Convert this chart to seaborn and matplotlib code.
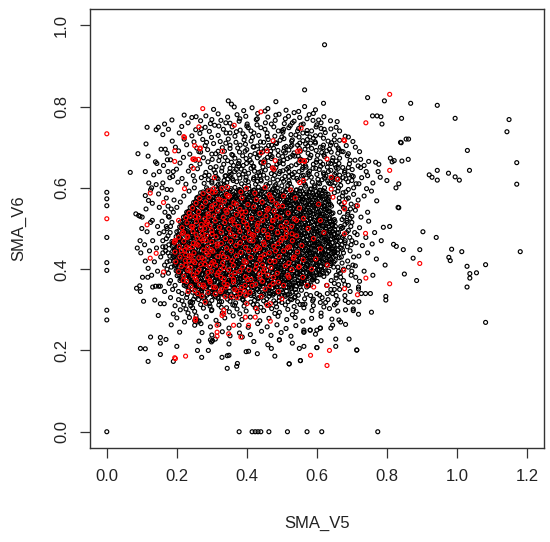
import matplotlib
matplotlib.use("Agg")
import matplotlib.pyplot as plt
import pandas as pd
import seaborn as sns

# ---------------- labels / ticks ----------------
x_label = "SMA_V5"
y_label = "SMA_V6"
x_ticks = [0.0, 0.2, 0.4, 0.6, 0.8, 1.0, 1.2]
y_ticks = [0.0, 0.2, 0.4, 0.6, 0.8, 1.0]

# ---------------- data (values in thousandths: (SMA_V5, SMA_V6)) ----------------
black_axis = [(0,589),(0,573),(0,556),(0,478),(0,416),(0,397),(0,299),(0,275),(0,0),
              (378,0),(415,0),(424,0),(432,0),(440,0),(463,0),(516,0),(572,0),(614,0),(774,0)]

black_core = [
 (252,333),(266,338),(279,330),(291,340),(305,335),(318,331),(333,339),(347,334),(362,329),(376,337),(391,332),(405,340),(420,335),(434,330),(449,338),(463,333),(478,340),(493,331),(508,336),(523,339),(538,332),
 (233,349),(245,343),(259,351),(270,346),(284,352),(297,344),(309,349),(323,342),(336,351),(350,346),(364,352),(377,343),(390,348),(404,353),(417,345),(431,350),(445,342),(458,348),(472,353),(486,344),(499,349),(513,346),(528,352),(541,343),(556,348),
 (221,360),(234,355),(247,363),(258,357),(272,364),(286,356),(298,361),(312,354),(325,363),(339,358),(351,365),(366,355),(379,361),(393,357),(406,364),(420,354),(433,360),(447,365),(460,356),(474,362),(487,357),(501,364),(515,355),(528,361),(542,358),(556,364),(571,356),(583,361),
 (209,372),(222,367),(236,375),(249,369),(262,376),(275,366),(289,372),(302,377),(315,368),(329,373),(343,366),(356,375),(369,370),(383,376),(397,367),(410,372),(424,377),(437,368),(451,374),(464,366),(478,371),(491,376),(505,369),(519,374),(532,366),(546,372),(559,377),(573,368),(587,373),(601,370),
 (201,384),(214,379),(228,387),(241,381),(254,388),(268,378),(281,385),(294,380),(308,388),(321,382),(335,378),(348,386),(362,381),(375,388),(389,379),(402,384),(416,389),(429,380),(443,386),(456,378),(470,383),(483,388),(497,381),(510,386),(524,378),(538,384),(551,389),(565,380),(578,385),(592,379),(606,387),(620,382),
 (198,396),(211,391),(224,399),(238,393),(251,400),(265,390),(278,397),(292,392),(305,400),(318,394),(332,390),(345,398),(359,393),(372,400),(386,391),(399,396),(413,401),(426,392),(440,398),(453,390),(467,395),(480,400),(494,393),(507,398),(521,390),(534,396),(548,401),(561,392),(575,397),(588,391),(602,399),(615,394),(629,390),
 (193,408),(206,403),(220,411),(233,405),(247,412),(260,402),(274,409),(287,404),(301,412),(314,406),(327,402),(341,410),(354,405),(368,412),(381,403),(395,408),(408,413),(422,404),(435,410),(449,402),(462,407),(476,412),(489,405),(503,410),(516,402),(530,408),(543,413),(557,404),(570,409),(584,403),(597,411),(611,406),(624,402),(638,409),
 (190,420),(203,415),(217,423),(230,417),(244,424),(257,414),(271,421),(284,416),(298,424),(311,418),(324,414),(338,422),(351,417),(365,424),(378,415),(392,420),(405,425),(419,416),(432,422),(446,414),(459,419),(473,424),(486,417),(500,422),(513,414),(527,420),(540,425),(554,416),(567,421),(581,415),(594,423),(608,418),(621,414),(635,421),(648,417),
 (189,432),(202,427),(216,435),(229,429),(243,436),(256,426),(270,433),(283,428),(297,436),(310,430),(323,426),(337,434),(350,429),(364,436),(377,427),(391,432),(404,437),(418,428),(431,434),(445,426),(458,431),(472,436),(485,429),(499,434),(512,426),(526,432),(539,437),(553,428),(566,433),(580,427),(593,435),(607,430),(620,426),(634,433),(647,429),
 (188,444),(201,439),(215,447),(228,441),(242,448),(255,438),(269,445),(282,440),(296,448),(309,442),(322,438),(336,446),(349,441),(363,448),(376,439),(390,444),(403,449),(417,440),(430,446),(444,438),(457,443),(471,448),(484,441),(498,446),(511,438),(525,444),(538,449),(552,440),(565,445),(579,439),(592,447),(606,442),(619,438),(633,445),(646,441),(659,447),
 (187,456),(200,451),(214,459),(227,453),(241,460),(254,450),(268,457),(281,452),(295,460),(308,454),(321,450),(335,458),(348,453),(362,460),(375,451),(389,456),(402,461),(416,452),(429,458),(443,450),(456,455),(470,460),(483,453),(497,458),(510,450),(524,456),(537,461),(551,452),(564,457),(578,451),(591,459),(605,454),(618,450),(632,457),(645,453),(658,459),
 (186,468),(199,463),(213,471),(226,465),(240,472),(253,462),(267,469),(280,464),(294,472),(307,466),(320,462),(334,470),(347,465),(361,472),(374,463),(388,468),(401,473),(415,464),(428,470),(442,462),(455,467),(469,472),(482,465),(496,470),(509,462),(523,468),(536,473),(550,464),(563,469),(577,463),(590,471),(604,466),(617,462),(631,469),(644,465),(657,471),
 (198,480),(211,475),(225,483),(238,477),(252,484),(265,474),(279,481),(292,476),(306,484),(319,478),(332,474),(346,482),(359,477),(373,484),(386,475),(400,480),(413,485),(427,476),(440,482),(454,474),(467,479),(481,484),(494,477),(508,482),(521,474),(535,480),(548,485),(562,476),(575,481),(589,475),(602,483),(616,478),(629,474),(643,481),(656,477),
 (200,492),(213,487),(227,495),(240,489),(254,496),(267,486),(281,493),(294,488),(308,496),(321,490),(334,486),(348,494),(361,489),(375,496),(388,487),(402,492),(415,497),(429,488),(442,494),(456,486),(469,491),(483,496),(496,489),(510,494),(523,486),(537,492),(550,497),(564,488),(577,493),(591,487),(604,495),(618,490),(631,486),(645,493),(658,489),
 (208,504),(221,499),(235,507),(248,501),(262,508),(275,498),(289,505),(302,500),(316,508),(329,502),(342,498),(356,506),(369,501),(383,508),(396,499),(410,504),(423,509),(437,500),(450,506),(464,498),(477,503),(491,508),(504,501),(518,506),(531,498),(545,504),(558,509),(572,500),(585,505),(599,499),(612,507),(626,502),(639,498),(653,505),
 (210,516),(223,511),(237,519),(250,513),(264,520),(277,510),(291,517),(304,512),(318,520),(331,514),(344,510),(358,518),(371,513),(385,520),(398,511),(412,516),(425,521),(439,512),(452,518),(466,510),(479,515),(493,520),(506,513),(520,518),(533,510),(547,516),(560,521),(574,512),(587,517),(601,511),(614,519),(628,514),(641,510),(652,517),
 (219,528),(232,523),(246,531),(259,525),(273,532),(286,522),(300,529),(313,524),(327,532),(340,526),(353,522),(367,530),(380,525),(394,532),(407,523),(421,528),(434,533),(448,524),(461,530),(475,522),(488,527),(502,532),(515,525),(529,530),(542,522),(556,528),(569,533),(583,524),(596,529),(610,523),(623,531),(637,526),(650,522),
 (228,540),(241,535),(255,543),(268,537),(282,544),(295,534),(309,541),(322,536),(336,544),(349,538),(362,534),(376,542),(389,537),(403,544),(416,535),(430,540),(443,545),(457,536),(470,542),(484,534),(497,539),(511,544),(524,537),(538,542),(551,534),(565,540),(578,545),(592,536),(605,541),(619,535),(632,543),(646,538),
 (238,552),(251,547),(265,555),(278,549),(292,556),(305,546),(319,553),(332,548),(346,556),(359,550),(372,546),(386,554),(399,549),(413,556),(426,547),(440,552),(453,557),(467,548),(480,554),(494,546),(507,551),(521,556),(534,549),(548,554),(561,546),(575,552),(588,557),(602,548),(615,553),(629,547),(642,555),
 (248,564),(261,559),(275,567),(288,561),(302,568),(315,558),(329,565),(342,560),(356,568),(369,562),(382,558),(396,566),(409,561),(423,568),(436,559),(450,564),(463,569),(477,560),(490,566),(504,558),(517,563),(531,568),(544,561),(558,566),(571,558),(585,564),(598,569),(612,560),(625,565),(639,559),
 (258,576),(271,571),(285,579),(298,573),(312,580),(325,570),(339,577),(352,572),(366,580),(379,574),(392,570),(406,578),(419,573),(433,580),(446,571),(460,576),(473,581),(487,572),(500,578),(514,570),(527,575),(541,580),(554,573),(568,578),(581,570),(595,576),(608,581),(622,572),(635,577),
 (268,588),(281,583),(295,591),(308,585),(322,592),(335,582),(349,589),(362,584),(376,592),(389,586),(402,582),(416,590),(429,585),(443,592),(456,583),(470,588),(483,593),(497,584),(510,590),(524,582),(537,587),(551,592),(564,585),(578,590),(591,582),(605,588),(618,593),(632,584),
 (285,600),(298,595),(312,603),(325,597),(339,604),(352,594),(366,601),(379,596),(393,604),(406,598),(419,594),(433,602),(446,597),(460,604),(473,595),(487,600),(500,605),(514,596),(527,602),(541,594),(554,599),(568,604),(581,597),(595,602),(608,594),(622,600),
]

black_core2 = [
 (259,338),(271,343),(286,336),(300,345),(311,341),(327,339),(340,346),(354,337),(365,342),(380,344),(393,336),(407,343),(420,340),(435,345),(447,338),(462,346),(474,339),(489,341),(502,344),(517,337),(529,343),
 (243,350),(256,355),(271,348),(284,357),(296,353),(311,351),(324,358),(338,349),(350,354),(364,356),(377,348),(391,355),(404,352),(418,357),(430,350),(445,358),(457,351),(472,353),(485,356),(499,349),(511,355),(526,352),(539,350),(552,357),
 (228,362),(241,367),(255,360),(268,369),(280,365),(295,363),(308,370),(322,361),(334,366),(348,368),(361,360),(375,367),(388,364),(402,369),(414,362),(429,370),(441,363),(456,365),(469,368),(483,361),(495,367),(510,364),(523,362),(537,369),(550,363),(564,366),(577,361),
 (215,374),(228,379),(242,372),(255,381),(267,377),(282,375),(295,382),(309,373),(321,378),(335,380),(348,372),(362,379),(375,376),(389,381),(401,374),(416,382),(428,375),(443,377),(456,380),(470,373),(482,379),(497,376),(510,374),(524,381),(537,375),(551,378),(564,373),(579,380),(592,376),
 (206,386),(219,391),(233,384),(246,393),(258,389),(273,387),(286,394),(300,385),(312,390),(326,392),(339,384),(353,391),(366,388),(380,393),(392,386),(407,394),(419,387),(434,389),(447,392),(461,385),(473,391),(488,388),(501,386),(515,393),(528,387),(542,390),(555,385),(570,392),(583,388),(597,391),(610,386),
 (203,398),(216,403),(230,396),(243,405),(255,401),(270,399),(283,406),(297,397),(309,402),(323,404),(336,396),(350,403),(363,400),(377,405),(389,398),(404,406),(416,399),(431,401),(444,404),(458,397),(470,403),(485,400),(498,398),(512,405),(525,399),(539,402),(552,397),(567,404),(580,400),(594,403),(607,398),(621,404),
 (197,410),(210,415),(224,408),(237,417),(249,413),(264,411),(277,418),(291,409),(303,414),(317,416),(330,408),(344,415),(357,412),(371,417),(383,410),(398,418),(410,411),(425,413),(438,416),(452,409),(464,415),(479,412),(492,410),(506,417),(519,411),(533,414),(546,409),(561,416),(574,412),(588,415),(601,410),(615,416),(628,411),(641,414),
 (194,422),(207,427),(221,420),(234,429),(246,425),(261,423),(274,430),(288,421),(300,426),(314,428),(327,420),(341,427),(354,424),(368,429),(380,422),(395,430),(407,423),(422,425),(435,428),(449,421),(461,427),(476,424),(489,422),(503,429),(516,423),(530,426),(543,421),(558,428),(571,424),(585,427),(598,422),(612,428),(625,423),(639,426),(652,421),
 (195,434),(208,439),(222,432),(235,441),(247,437),(262,435),(275,442),(289,433),(301,438),(315,440),(328,432),(342,439),(355,436),(369,441),(381,434),(396,442),(408,435),(423,437),(436,440),(450,433),(462,439),(477,436),(490,434),(504,441),(517,435),(531,438),(544,433),(559,440),(572,436),(586,439),(599,434),(613,440),(626,435),(640,438),(653,433),
 (193,446),(206,451),(220,444),(233,453),(245,449),(260,447),(273,454),(287,445),(299,450),(313,452),(326,444),(340,451),(353,448),(367,453),(379,446),(394,454),(406,447),(421,449),(434,452),(448,445),(460,451),(475,448),(488,446),(502,453),(515,447),(529,450),(542,445),(557,452),(570,448),(584,451),(597,446),(611,452),(624,447),(638,450),(651,445),
 (191,458),(204,463),(218,456),(231,465),(243,461),(258,459),(271,466),(285,457),(297,462),(311,464),(324,456),(338,463),(351,460),(365,465),(377,458),(392,466),(404,459),(419,461),(432,464),(446,457),(458,463),(473,460),(486,458),(500,465),(513,459),(527,462),(540,457),(555,464),(568,460),(582,463),(595,458),(609,464),(622,459),(636,462),(649,457),
 (196,470),(209,475),(223,468),(236,477),(248,473),(263,471),(276,478),(290,469),(302,474),(316,476),(329,468),(343,475),(356,472),(370,477),(382,470),(397,478),(409,471),(424,473),(437,476),(451,469),(463,475),(478,472),(491,470),(505,477),(518,471),(532,474),(545,469),(560,476),(573,472),(587,475),(600,470),(614,476),(627,471),(641,474),(654,469),
 (204,482),(217,487),(231,480),(244,489),(256,485),(271,483),(284,490),(298,481),(310,486),(324,488),(337,480),(351,487),(364,484),(378,489),(390,482),(405,490),(417,483),(432,485),(445,488),(459,481),(471,487),(486,484),(499,482),(513,489),(526,483),(540,486),(553,481),(568,488),(581,484),(595,487),(608,482),(622,488),(635,483),(649,486),
 (206,494),(219,499),(233,492),(246,501),(258,497),(273,495),(286,502),(300,493),(312,498),(326,500),(339,492),(353,499),(366,496),(380,501),(392,494),(407,502),(419,495),(434,497),(447,500),(461,493),(473,499),(488,496),(501,494),(515,501),(528,495),(542,498),(555,493),(570,500),(583,496),(597,499),(610,494),(624,500),(637,495),(651,498),
 (214,506),(227,511),(241,504),(254,513),(266,509),(281,507),(294,514),(308,505),(320,510),(334,512),(347,504),(361,511),(374,508),(388,513),(400,506),(415,514),(427,507),(442,509),(455,512),(469,505),(481,511),(496,508),(509,506),(523,513),(536,507),(550,510),(563,505),(578,512),(591,508),(605,511),(618,506),(632,512),(645,507),
 (216,518),(229,523),(243,516),(256,525),(268,521),(283,519),(296,526),(310,517),(322,522),(336,524),(349,516),(363,523),(376,520),(390,525),(402,518),(417,526),(429,519),(444,521),(457,524),(471,517),(483,523),(498,520),(511,518),(525,525),(538,519),(552,522),(565,517),(580,524),(593,520),(607,523),(620,518),(634,524),(647,519),
 (224,530),(237,535),(251,528),(264,537),(276,533),(291,531),(304,538),(318,529),(330,534),(344,536),(357,528),(371,535),(384,532),(398,537),(410,530),(425,538),(437,531),(452,533),(465,536),(479,529),(491,535),(506,532),(519,530),(533,537),(546,531),(560,534),(573,529),(588,536),(601,532),(615,535),(628,530),(642,536),
 (233,542),(246,547),(260,540),(273,549),(285,545),(300,543),(313,550),(327,541),(339,546),(353,548),(366,540),(380,547),(393,544),(407,549),(419,542),(434,550),(446,543),(461,545),(474,548),(488,541),(500,547),(515,544),(528,542),(542,549),(555,543),(569,546),(582,541),(597,548),(610,544),(624,547),(637,542),
 (243,554),(256,559),(270,552),(283,561),(295,557),(310,555),(323,562),(337,553),(349,558),(363,560),(376,552),(390,559),(403,556),(417,561),(429,554),(444,562),(456,555),(471,557),(484,560),(498,553),(510,559),(525,556),(538,554),(552,561),(565,555),(579,558),(592,553),(607,560),(620,556),(634,559),
 (253,566),(266,571),(280,564),(293,573),(305,569),(320,567),(333,574),(347,565),(359,570),(373,572),(386,564),(400,571),(413,568),(427,573),(439,566),(454,574),(466,567),(481,569),(494,572),(508,565),(520,571),(535,568),(548,566),(562,573),(575,567),(589,570),(602,565),(617,572),(630,568),
 (263,578),(276,583),(290,576),(303,585),(315,581),(330,579),(343,586),(357,577),(369,582),(383,584),(396,576),(410,583),(423,580),(437,585),(449,578),(464,586),(476,579),(491,581),(504,584),(518,577),(530,583),(545,580),(558,578),(572,585),(585,579),(599,582),(612,577),(626,584),
 (275,590),(288,595),(302,588),(315,597),(327,593),(342,591),(355,598),(369,589),(381,594),(395,596),(408,588),(422,595),(435,592),(449,597),(461,590),(476,598),(488,591),(503,593),(516,596),(530,589),(542,595),(557,592),(570,590),(584,597),(597,591),(611,594),(624,589),
]

black_core3 = [
 (226,358),(243,367),(252,361),(273,354),(285,369),(300,363),(308,356),(327,365),(338,360),(355,371),(364,355),(383,364),(395,359),(410,368),(418,362),(437,357),(448,370),(465,363),(474,354),(493,366),(505,361),(520,368),(528,356),(547,365),(558,371),(575,359),
 (212,376),(229,385),(238,379),(259,372),(271,387),(286,381),(294,374),(313,383),(324,378),(341,389),(350,373),(369,382),(381,377),(396,386),(404,380),(423,375),(434,388),(451,381),(460,372),(479,384),(491,379),(506,386),(514,374),(533,383),(544,389),(561,377),(570,381),(589,374),(601,386),
 (203,394),(220,403),(229,397),(250,390),(262,405),(277,399),(285,392),(304,401),(315,396),(332,407),(341,391),(360,400),(372,395),(387,404),(395,398),(414,393),(425,406),(442,399),(451,390),(470,402),(482,397),(497,404),(505,392),(524,401),(535,407),(552,395),(561,399),(580,392),(592,404),(607,398),(618,390),
 (196,412),(213,421),(222,415),(243,408),(255,423),(270,417),(278,410),(297,419),(308,414),(325,425),(334,409),(353,418),(365,413),(380,422),(388,416),(407,411),(418,424),(435,417),(444,408),(463,420),(475,415),(490,422),(498,410),(517,419),(528,425),(545,413),(554,417),(573,410),(585,422),(600,416),(611,408),(628,419),(640,414),
 (192,430),(209,439),(218,433),(239,426),(251,441),(266,435),(274,428),(293,437),(304,432),(321,443),(330,427),(349,436),(361,431),(376,440),(384,434),(403,429),(414,442),(431,435),(440,426),(459,438),(471,433),(486,440),(494,428),(513,437),(524,443),(541,431),(550,435),(569,428),(581,440),(596,434),(607,426),(624,437),(636,432),(651,441),
 (200,448),(217,457),(226,451),(247,444),(259,459),(274,453),(282,446),(301,455),(312,450),(329,461),(338,445),(357,454),(369,449),(384,458),(392,452),(411,447),(422,460),(439,453),(448,444),(467,456),(479,451),(494,458),(502,446),(521,455),(532,461),(549,449),(558,453),(577,446),(589,458),(604,452),(615,444),(632,455),(644,450),(659,459),
 (190,466),(207,475),(216,469),(237,462),(249,477),(264,471),(272,464),(291,473),(302,468),(319,479),(328,463),(347,472),(359,467),(374,476),(382,470),(401,465),(412,478),(429,471),(438,462),(457,474),(469,469),(484,476),(492,464),(511,473),(522,479),(539,467),(548,471),(567,464),(579,476),(594,470),(605,462),(622,473),(634,468),(649,477),
 (205,484),(222,493),(231,487),(252,480),(264,495),(279,489),(287,482),(306,491),(317,486),(334,497),(343,481),(362,490),(374,485),(389,494),(397,488),(416,483),(427,496),(444,489),(453,480),(472,492),(484,487),(499,494),(507,482),(526,491),(537,497),(554,485),(563,489),(582,482),(594,494),(609,488),(620,480),(637,491),(649,486),
 (212,502),(229,511),(238,505),(259,498),(271,513),(286,507),(294,500),(313,509),(324,504),(341,515),(350,499),(369,508),(381,503),(396,512),(404,506),(423,501),(434,514),(451,507),(460,498),(479,510),(491,505),(506,512),(514,500),(533,509),(544,515),(561,503),(570,507),(589,500),(601,512),(616,506),(627,498),(644,509),
 (222,520),(239,529),(248,523),(269,516),(281,531),(296,525),(304,518),(323,527),(334,522),(351,533),(360,517),(379,526),(391,521),(406,530),(414,524),(433,519),(444,532),(461,525),(470,516),(489,528),(501,523),(516,530),(524,518),(543,527),(554,533),(571,521),(580,525),(599,518),(611,530),(626,524),(637,516),
 (231,538),(248,547),(257,541),(278,534),(290,549),(305,543),(313,536),(332,545),(343,540),(360,551),(369,535),(388,544),(400,539),(415,548),(423,542),(442,537),(453,550),(470,543),(479,534),(498,546),(510,541),(525,548),(533,536),(552,545),(563,551),(580,539),(589,543),(608,536),(620,548),(635,542),
 (245,556),(262,565),(271,559),(292,552),(304,567),(319,561),(327,554),(346,563),(357,558),(374,569),(383,553),(402,562),(414,557),(429,566),(437,560),(456,555),(467,568),(484,561),(493,552),(512,564),(524,559),(539,566),(547,554),(566,563),(577,569),(594,557),(603,561),(622,554),(634,566),
 (257,574),(274,583),(283,577),(304,570),(316,585),(331,579),(339,572),(358,581),(369,576),(386,587),(395,571),(414,580),(426,575),(441,584),(449,578),(468,573),(479,586),(496,579),(505,570),(524,582),(536,577),(551,584),(559,572),(578,581),(589,587),(606,575),(615,579),(632,572),
]

black_trans = [
 (300,612),(318,622),(336,607),(352,628),(371,615),(389,634),(405,606),(422,641),(440,620),(455,608),(470,635),(488,619),(503,642),(517,606),(533,626),(549,640),(562,613),(578,633),(593,605),(607,645),
 (622,624),(638,610),(651,633),(666,618),(680,642),(352,648),(376,660),(398,672),(418,653),(436,680),(452,664),(468,690),(486,658),(502,677),(519,650),(535,686),(552,671),(567,655),(583,680),(598,663),
 (614,687),(630,651),(646,674),(663,660),(420,700),(448,712),(476,698),(500,725),(526,702),(545,740),(568,708),(590,722),(610,700),(632,715),(655,705),(670,690),(600,755),(572,770),(530,760),
 (230,338),(248,326),(265,335),(283,322),(300,340),(318,328),(336,336),(352,321),(370,334),(388,326),(405,338),(422,323),(440,332),(457,327),(474,336),(492,322),(510,333),(528,325),(547,336),(565,327),
 (582,335),(600,340),(615,330),(240,310),(268,313),(295,309),(320,312),(342,305),(365,311),(392,309),(418,313),(440,306),(462,311),(485,307),(510,312),(535,308),(560,313),(590,310),(620,307),(650,312),
 (650,350),(662,362),(655,378),(667,390),(660,405),(672,415),(664,428),(676,440),(669,452),(680,465),(672,478),(685,490),(674,502),(686,515),(677,528),(689,540),(676,552),(664,565),(673,580),(660,592),
 (648,605),(634,612),(642,625),(690,575),(698,460),(703,410),(695,525),
 (182,372),(176,390),(184,405),(172,418),(180,432),(168,445),(177,460),(170,475),(181,490),(172,500),(186,515),(178,528),(190,540),(200,552),(195,360),(205,345),(188,350),(165,410),(160,455),(163,492),
 (175,555),(210,565),(220,580),(235,592),(250,600),
 (312,628),(328,641),(346,622),(362,655),(384,646),(397,619),(413,662),(428,629),(446,651),(459,675),(478,643),(493,662),(509,628),(524,676),(541,657),(556,629),(571,667),(589,648),(604,612),(617,658),
 (633,640),(647,621),(660,685),(395,690),(412,715),(434,688),(458,726),(471,705),(490,680),(512,702),(530,718),(547,678),(566,695),(580,725),(602,680),(619,705),(636,695),(381,705),(360,680),(338,675),
 (318,690),(296,650),(280,630),(268,688),(285,712),(352,735),(400,752),(440,748),(490,740),(520,748),(560,735),(612,746),(582,710),(545,705),(505,690),(470,672),(440,640),(420,625),(390,655),(365,640),
 (340,630),(325,610),(480,605),(520,640),(560,650),(600,633),(640,660),(655,650),(675,625),(690,650),
 (228,330),(245,318),(258,340),(276,328),(293,315),(310,332),(328,320),(345,338),(360,312),(378,329),(395,318),(412,335),(430,313),(448,322),(465,340),(482,316),(500,335),(518,320),(536,330),(552,313),
 (570,338),(590,326),(608,336),(625,318),(300,300),(330,292),(380,290),(430,295),(480,291),(530,288),
]

black_top = [
 (203,614),(226,609),(251,617),(278,611),(300,616),(318,608),(343,613),(361,618),(385,610),(404,615),(425,609),(441,617),(466,612),(483,608),(505,616),(522,611),(546,618),(566,609),(587,614),(608,610),(631,617),(652,612),(668,606),(689,615),(712,610),
 (188,628),(215,623),(247,630),(270,625),(292,631),(315,624),(338,629),(359,622),(377,632),(398,626),(419,621),(437,630),(458,624),(479,631),(501,622),(520,628),(543,623),(561,631),(584,626),(603,621),(626,629),(645,624),(665,631),(683,622),(704,628),(728,625),
 (175,640),(199,646),(233,641),(259,647),(283,638),(306,644),(329,649),(351,639),(370,645),(393,641),(412,648),(434,638),(453,644),(474,649),(495,640),(514,646),(536,638),(558,645),(579,641),(597,648),(619,637),(640,643),(661,648),(679,638),(701,645),(741,640),
 (162,655),(209,661),(241,653),(266,659),(289,664),(312,652),(334,658),(356,663),(377,654),(399,660),(420,652),(441,661),(462,655),(483,650),(504,659),(527,654),(548,662),(569,651),(590,658),(611,653),(633,661),(652,656),(674,650),(693,659),(718,654),
 (182,669),(219,675),(253,668),(276,674),(301,670),(323,677),(345,667),(366,673),(388,679),(409,668),(430,674),(451,669),(472,677),(494,666),(516,672),(537,678),(558,668),(580,674),(600,669),(622,677),(644,667),(665,673),(687,679),(709,668),
 (172,685),(205,691),(237,683),(263,689),(288,694),(311,684),(336,690),(357,682),(379,688),(400,694),(423,684),(446,689),(467,682),(489,692),(510,686),(531,680),(553,690),(575,685),(598,692),(620,681),(641,688),(663,694),(690,684),(722,689),
 (196,700),(228,706),(257,698),(281,704),(305,709),(330,699),(352,705),(374,698),(396,707),(418,701),(441,696),(462,704),(485,709),(507,699),(529,705),(550,697),(574,703),(596,710),(617,699),(639,705),(661,698),(684,704),
 (187,715),(221,720),(249,713),(274,719),(299,724),(324,714),(347,720),(369,712),(392,718),(416,724),(439,713),(461,719),(483,711),(506,721),(528,715),(551,710),(573,719),(595,713),(619,722),(642,711),(665,717),(703,714),
 (160,731),(207,735),(243,728),(266,734),(293,739),(318,729),(341,735),(366,727),(389,733),(412,740),(434,729),(458,735),(480,727),(503,737),(526,731),(549,725),(572,734),(596,728),(624,736),(650,730),(681,727),
 (147,749),(176,744),(214,751),(254,743),(281,749),(308,754),(333,744),(358,750),(381,742),(404,748),(429,755),(452,744),(477,750),(501,741),(524,753),(548,746),(572,741),(598,750),(621,744),(655,749),
 (165,757),(186,767),(232,760),(268,765),(296,758),(326,766),(352,759),(378,764),(401,757),(427,768),(453,760),(481,766),(507,758),(535,764),(561,757),(589,766),(612,760),(639,765),
 (221,779),(243,773),(283,777),(318,782),(345,774),(372,780),(397,776),(431,783),(460,774),(492,781),(519,776),(551,773),(578,780),(620,775),
 (347,814),(356,806),(364,799),(305,793),(391,790),(415,797),(452,789),(512,791),(548,788),(596,792),(483,812),(483,779),(565,841),(565,800),(619,808),(622,952),
 (290,620),(335,618),(380,624),(430,616),(475,622),(520,617),(570,624),(615,620),(660,622),(700,618),(310,637),(355,633),(405,636),(448,631),(492,635),(530,633),(575,637),(620,633),
 (655,637),(690,632),(320,667),(378,666),(440,663),(505,668),(560,660),(610,664),(655,666),(300,683),(352,697),(410,680),(455,697),(520,693),(585,697),(628,691),(675,689),(340,710),
 (395,726),(430,703),(495,717),(540,730),(560,716),(610,730),(650,718),(270,745),(320,752),(370,738),(420,735),(470,757),(510,770),(555,755),(585,740),(605,767),(640,745),(460,795),
 (430,770),(505,744),(380,770),(340,760),(300,768),(255,775),(535,785),(590,783),(665,740),(690,725),(710,700),(725,670),(735,655),(695,668),
]

black_left = [
 (95,530),(83,536),(91,532),(101,528),(110,581),(119,569),(112,548),(134,632),(141,608),(118,678),(139,664),(143,660),(155,695),(167,695),(173,669),(89,684),(112,708),(115,749),(141,743),(67,638),
 (125,595),(148,585),(160,612),(172,596),(180,625),(150,552),(166,540),(130,520),(145,505),(158,518),(176,530),(184,548),(192,570),(170,505),(150,488),(131,470),(108,460),(122,445),(142,452),(160,470),
 (175,482),(168,455),(154,430),(136,418),(118,402),(97,440),(87,452),(102,380),(117,380),(131,356),(139,358),(148,358),(153,358),(85,353),(94,359),(96,345),(105,321),(137,324),(153,315),(164,315),
 (147,286),(184,263),(172,400),(160,385),(178,365),(165,345),(182,330),(195,310),(205,325),(190,290),(210,300),(220,312),(232,292),(245,305),(200,280),(222,270),(255,285),(240,320),(215,340),(180,420),
 (175,440),(182,505),(160,440),(145,395),(128,385),(110,420),(100,500),(115,492),(125,515),(95,470),(120,612),(110,640),(150,640),(128,600),(190,640),(130,562),(184,595),(170,575),(158,600),
]

black_bottom = [
 (215,322),(238,318),(262,325),(284,316),(300,323),(322,320),(345,326),(368,317),(389,324),(411,319),(432,327),(455,316),(477,322),(500,318),(524,326),(545,320),(566,314),(588,322),(610,318),(632,325),(655,316),(681,323),(704,319),
 (226,302),(251,296),(276,304),(299,298),(327,306),(350,295),(372,302),(398,297),(424,305),(448,298),(471,303),(493,294),(517,301),(541,296),(563,305),(586,298),(612,292),(636,303),(660,297),(719,289),
 (236,281),(258,276),(284,283),(312,274),(337,280),(361,285),(386,276),(410,282),(437,273),(463,279),(489,284),(514,276),(538,281),(560,272),(585,279),(612,284),(643,277),(668,270),
 (251,262),(269,266),(296,258),(320,264),(349,255),(378,262),(404,257),(431,266),(458,258),(486,263),(512,254),(540,261),(563,250),(581,250),(610,255),(645,262),(682,264),
 (272,244),(300,238),(330,246),(352,236),(379,243),(410,239),(442,247),(469,237),(498,244),(526,235),(563,245),(596,240),(654,228),(692,228),(654,210),
 (263,223),(299,221),(310,228),(387,233),(349,216),(420,222),(460,214),(493,226),(530,218),(600,207),(714,201),(550,205),
 (259,200),(290,200),(398,197),(405,198),(329,183),(344,187),(349,188),(373,168),(371,161),(344,156),(271,183),(430,192),(480,186),(521,167),(553,175),(470,205),(200,210),(208,245),
 (118,173),(96,205),(110,204),(125,233),(153,190),(169,227),(153,218),(153,232),(190,173),(251,273),(258,270),(264,272),(296,226),(302,224),
]

black_right = [
 (662,600),(675,588),(690,596),(705,584),(684,572),(670,560),(698,560),(718,570),(735,580),(756,592),(771,568),(800,618),(781,626),(834,610),(826,600),(832,552),(790,503),(808,505),
 (745,540),(726,528),(710,545),(688,535),(672,522),(700,515),(722,502),(748,518),(765,490),(740,478),(715,485),(690,495),(668,505),(676,482),(700,470),(730,458),(758,462),(784,470),
 (819,461),(827,456),(847,448),(875,427),(894,448),(903,492),(941,478),(672,460),(695,445),(720,432),(745,440),(770,425),(795,410),(688,420),(710,408),(735,395),(760,385),(676,400),
 (698,385),(722,370),(753,340),(739,340),(727,340),(719,356),(719,351),(704,302),(704,298),(756,294),(797,333),(797,324),(850,388),(885,372),(668,380),(690,360),(665,350),(680,335),
 (660,325),(645,340),(650,365),(690,318),(720,320),(670,430),(668,470),(662,490),(680,510),(665,540),(680,550),(700,530),(720,610),(742,598),(760,612),(775,640),(745,630),(700,630),
 (725,650),(748,665),(768,663),(777,658),(815,664),(810,673),(821,667),(843,666),(861,670),(839,712),(855,720),(841,711),(862,720),(759,777),(772,777),(783,775),(786,757),(745,822),
 (793,814),(868,808),(944,803),(842,771),(995,771),(1149,768),(1143,738),(1030,692),(1171,662),(1171,609),(1036,643),(944,643),(921,632),(929,626),(944,619),(976,636),(995,627),(1007,619),
 (834,551),(985,449),(1014,443),(1181,443),(1082,411),(1029,407),(977,429),(981,421),(1082,269),(1029,356),(1037,378),(1037,389),(1056,391),(714,201),(658,763),(663,275),(682,300),
 (600,207),(610,255),(581,250),(563,245),(493,226),(521,167),(553,175),(612,224),(640,255),(600,250),(563,210),
 (628,360),(641,372),(655,385),(634,395),(648,405),(662,395),(676,372),(659,440),(673,448),(687,455),(694,478),(681,470),(662,478),(670,500),(686,520),(696,548),(683,590),
 (664,575),(650,588),(705,600),(712,556),(697,505),(708,490),(712,465),(705,430),(690,405),(700,395),(711,380),(680,362),(695,345),(640,350),(655,335),(630,340),
]

red_axis = [(0,733),(0,524)]

red_core = [
 (272,334),(310,339),(356,332),(398,336),(441,333),
 (251,347),(289,343),(328,350),(371,347),(409,343),(452,351),
 (240,358),(276,361),(304,356),(344,362),(385,355),(425,363),(466,359),
 (228,370),(256,373),(295,368),(335,376),(362,368),(402,374),(445,370),(490,368),
 (220,383),(247,385),(287,379),(315,386),(355,384),(396,381),(437,388),(476,380),(517,385),
 (205,394),(231,397),(258,392),(299,395),(325,399),(366,391),(406,398),(447,394),(487,390),(528,399),
 (213,407),(240,404),(268,411),(294,407),(334,404),(361,409),(388,405),(428,411),(469,404),(510,408),(550,406),
 (197,418),(224,421),(251,416),(278,423),(305,419),(331,416),(358,421),(398,417),(438,424),(480,419),(520,415),(561,423),
 (209,430),(236,433),(263,428),(290,435),(317,431),(344,428),(370,433),(411,429),(451,436),(492,431),(533,427),
 (195,442),(222,446),(249,440),(276,447),(303,444),(329,439),(356,445),(383,441),(424,447),(464,440),(505,445),(545,442),
 (207,455),(234,452),(261,459),(288,454),(315,457),(342,452),(369,458),(396,454),(436,451),(477,456),(517,453),(557,458),
 (193,466),(220,469),(247,464),(274,470),(300,467),(327,463),(354,468),(381,465),(408,471),(448,466),(489,463),(530,470),
 (205,478),(231,481),(258,476),(285,483),(312,480),(339,475),(366,481),(393,477),(420,483),(461,478),(501,476),(542,482),
 (219,490),(246,493),(273,488),(300,495),(327,491),(354,487),(380,493),(407,489),(448,495),(488,490),(529,487),
 (215,502),(242,505),(268,500),(295,507),(322,503),(349,499),(376,505),(403,501),(430,507),(470,502),(511,499),
 (229,514),(256,517),(283,512),(310,519),(337,515),(364,511),(391,517),(432,513),(473,519),(513,515),
 (226,526),(253,529),(280,524),(306,531),(333,527),(360,523),(387,529),(414,525),(455,531),(495,526),(536,524),
 (235,538),(262,541),(289,536),(316,543),(343,539),(370,535),(397,541),(437,537),(478,543),(518,538),
 (245,550),(272,553),(299,548),(326,555),(353,551),(380,547),(420,553),(461,549),(502,555),
 (255,562),(282,565),(309,560),(336,567),(363,563),(403,559),(444,565),(484,561),
 (265,574),(292,577),(319,572),(346,579),(386,575),(427,571),(467,577),
 (275,586),(302,589),(342,584),(383,590),(423,587),(464,583),
 (305,598),(345,602),(399,599),(452,601),
 (205,520),(215,488),(228,455),(241,432),(226,410),(238,395),(252,378),(265,362),(218,372),(232,345),(260,340),(278,356),(289,392),(272,428),(256,462),(284,470),(298,448),(311,410),
 (326,380),(341,356),(246,505),(262,528),(287,516),(301,487),(316,462),(333,430),(348,398),(362,375),(230,478),(213,445),(247,420),(263,398),(281,412),(294,372),(310,355),(325,345),
 (338,332),(372,330),(393,345),(415,360),(437,378),(451,400),(466,420),(482,445),(497,470),(513,488),(528,505),(542,520),(591,356),(646,577),(677,397),(196,470),
 (365,350),(380,395),(392,420),(405,445),(418,470),(430,495),(445,520),(458,545),(472,570),(485,530),(498,505),(510,478),(522,455),(535,430),(548,405),(560,380),(572,360),(585,400),
 (597,425),(610,450),(590,475),(575,500),(562,525),(550,550),(538,575),(525,595),(505,580),(490,555),(475,520),(460,485),(450,460),(440,430),(425,400),(412,375),(395,360),(380,340),
 (355,520),(340,545),(325,570),(310,590),(300,555),(290,530),(280,500),(270,475),(285,440),(300,415),(318,392),(335,365),(350,580),(370,560),(385,540),(400,510),(415,485),(430,455),
 (445,410),(460,385),(475,365),(490,345),(505,360),(520,380),(610,520),(620,490),(630,410),(605,560),(235,420),(225,435),(245,455),(255,485),(270,510),(238,530),
]

red_ring = [
 (274,795),(440,787),(740,760),(679,716),(808,830),(808,643),(808,364),(740,378),(716,337),(636,200),(629,163),(582,188),(894,414),(194,182),(225,186),(315,245),(315,235),(348,241),
 (194,691),(194,665),(222,724),(247,670),(247,648),(263,750),(262,670),(266,696),(251,704),(222,598),(115,509),(124,587),(162,564),(220,726),(246,671),(251,671),(267,698),(441,686),
 (473,649),(551,691),(564,667),(677,718),(334,290),(467,315),(400,315),(281,319),(253,274),(124,427),(141,439),(162,393),(194,470),(253,278),(196,180),(315,262),(362,262),(383,233),
 (396,282),(405,262),(329,286),(334,299),(679,352),(629,360),(467,272),(424,282),(427,303),(458,311),(500,327),(555,747),(475,716),(545,690),(553,667),(565,665),(629,671),(641,626),
 (659,621),(641,597),(679,564),(679,548),(716,556),(679,487),(739,488),(477,646),(481,667),(448,663),(458,691),(562,618),(551,613),(364,754),(330,690),(307,625),(329,599),(291,593),
]

# ---------------- build tables ----------------
def build(groups, label):
    pts = [p for g in groups for p in g]
    return pd.DataFrame({x_label: [p[0] / 1000 for p in pts],
                         y_label: [p[1] / 1000 for p in pts],
                         "group": label})

black_df = build([black_axis, black_core, black_core2, black_core3, black_trans, black_top,
                  black_left, black_bottom, black_right], "black")
red_df = build([red_axis, red_core, red_ring], "red")

# ---------------- figure ----------------
sns.set_style("white")
plt.rcParams["font.family"] = ["Liberation Sans", "DejaVu Sans"]

W, H = 550, 542
fig = plt.figure(figsize=(W / 100, H / 100), dpi=100)
left, right, top, bottom = 90, 543.7, 9, 448
ax = fig.add_axes([left / W, (H - bottom) / H, (right - left) / W, (bottom - top) / H])

for df, col in ((black_df, "black"), (red_df, "red")):
    sns.scatterplot(data=df, x=x_label, y=y_label, ax=ax, s=8, marker="o",
                    color=col, legend=False, linewidth=0.85)
    coll = ax.collections[-1]
    coll.set_facecolor("none")
    coll.set_edgecolor(col)
    coll.set_linewidth(0.85)

ax.set_xlim(-0.048, 1.248)
ax.set_ylim(-0.04, 1.04)
ax.set_xticks(x_ticks)
ax.set_xticklabels([f"{t:.1f}" for t in x_ticks])
ax.set_yticks(y_ticks)
ax.set_yticklabels([f"{t:.1f}" for t in y_ticks], rotation=90, va="center")

axis_col = "#333333"
text_col = "#222222"
ax.tick_params(axis="both", direction="out", length=7, width=0.9, colors=axis_col,
               labelcolor=text_col, labelsize=12, pad=8,
               bottom=True, left=True, top=False, right=False)
for sp in ax.spines.values():
    sp.set_visible(True)
    sp.set_color(axis_col)
    sp.set_linewidth(1.0)

ax.set_xlabel(x_label, fontsize=12, color=text_col, va="center")
ax.set_ylabel(y_label, fontsize=12, color=text_col, va="center")
ax.xaxis.set_label_coords(0.5, -(523 - bottom) / (bottom - top))
ax.yaxis.set_label_coords(-(left - 19) / (right - left), 0.5)

fig.savefig("out.png", dpi=100)
